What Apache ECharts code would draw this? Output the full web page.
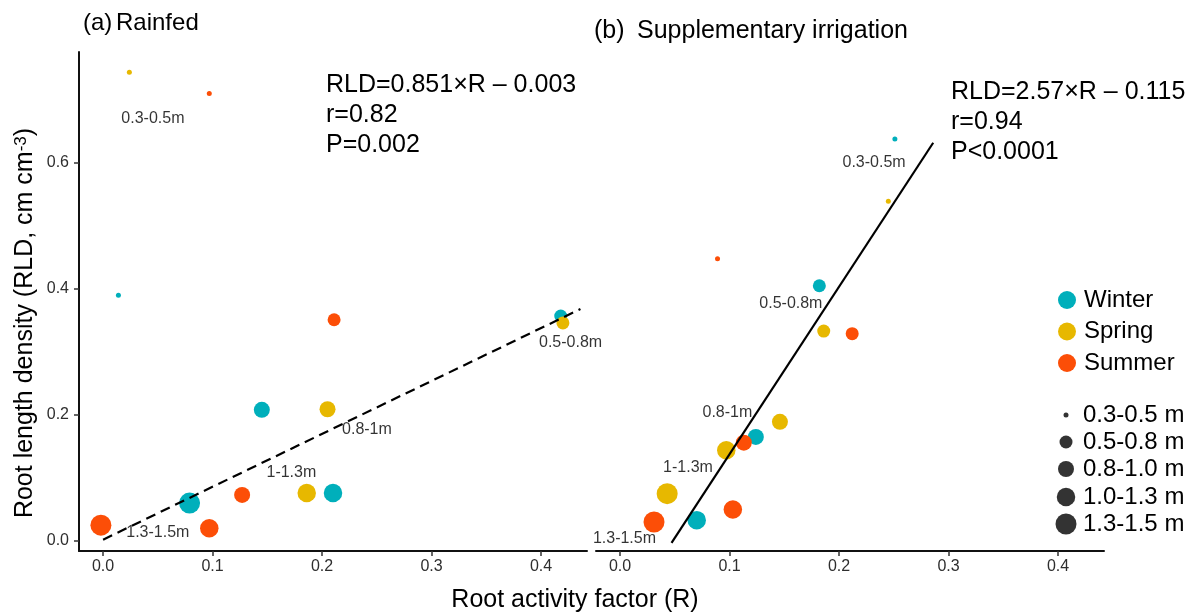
<!DOCTYPE html>
<html>
<head>
<meta charset="utf-8">
<title>RLD vs R</title>
<script src="https://cdn.jsdelivr.net/npm/echarts@6/dist/echarts.min.js"></script>
<style>
  html, body { margin: 0; padding: 0; background: #fff; }
  #chart { width: 1194px; height: 613px; }
</style>
</head>
<body>
<div id="chart"></div>
<script>
// ---- data: [R, RLD, depth index] ----
var depths = ['0.3-0.5 m', '0.5-0.8 m', '0.8-1.0 m', '1.0-1.3 m', '1.3-1.5 m'];
var depthTags = ['0.3-0.5m', '0.5-0.8m', '0.8-1m', '1-1.3m', '1.3-1.5m'];
var seasons = ['Winter', 'Spring', 'Summer'];
var xTicks = [0, 0.1, 0.2, 0.3, 0.4];
var yTicks = [0, 0.2, 0.4, 0.6];

// (a) rainfed
var rainWinter = [[0.014, 0.390, 0], [0.418, 0.357, 1], [0.145, 0.208, 2], [0.210, 0.076, 3], [0.079, 0.060, 4]];
var rainSpring = [[0.024, 0.744, 0], [0.420, 0.346, 1], [0.205, 0.209, 2], [0.186, 0.076, 3]];
var rainSummer = [[0.097, 0.710, 0], [0.211, 0.351, 1], [0.127, 0.073, 2], [0.097, 0.020, 3], [-0.002, 0.025, 4]];
var rainFit = [[0, 0.002], [0.436, 0.368]];
var rainTagPos = [[0.0455, 0.671], [0.427, 0.314], [0.241, 0.176], [0.172, 0.108], [0.050, 0.013]];

// (b) supplementary irrigation
var irrWinter = [[0.251, 0.638, 0], [0.182, 0.405, 1], [0.124, 0.165, 2], [0.070, 0.033, 3]];
var irrSpring = [[0.245, 0.539, 0], [0.186, 0.333, 1], [0.146, 0.189, 2], [0.097, 0.144, 3], [0.043, 0.075, 4]];
var irrSummer = [[0.089, 0.448, 0], [0.212, 0.329, 1], [0.113, 0.156, 2], [0.103, 0.050, 3], [0.031, 0.030, 4]];
var irrFit = [[0.047, -0.003], [0.286, 0.632]];
var irrTagPos = [[0.232, 0.600], [0.156, 0.376], [0.098, 0.203], [0.062, 0.116], [0.004, 0.003]];

// ---- styling ----
var FONT = "'Liberation Sans', Arial, sans-serif";
var colors = { Winter: '#00AFBB', Spring: '#E7B800', Summer: '#FC4E07' };
var dotSizes = [5, 13, 16, 18.5, 21];

var chart = echarts.init(document.getElementById('chart'), null, { renderer: 'canvas' });

function xAxisOf(i) {
  return {
    type: 'value', gridIndex: i, min: -0.022, max: 0.442,
    axisLine: { show: true, onZero: false, lineStyle: { color: '#111', width: 2 } },
    axisTick: { show: true, length: 5, customValues: xTicks, lineStyle: { color: '#333', width: 1.5 } },
    axisLabel: { customValues: xTicks, margin: 8, fontSize: 16, fontFamily: FONT, color: '#2e2e2e',
      formatter: function (v) { return v.toFixed(1); } },
    splitLine: { show: false }
  };
}

function yAxisOf(i, show) {
  return {
    type: 'value', gridIndex: i, min: -0.016, max: 0.776, show: show,
    axisLine: { show: true, onZero: false, lineStyle: { color: '#111', width: 2 } },
    axisTick: { show: true, length: 5, customValues: yTicks, lineStyle: { color: '#333', width: 1.5 } },
    axisLabel: { customValues: yTicks, margin: 10, fontSize: 16, fontFamily: FONT, color: '#2e2e2e',
      formatter: function (v) { return v.toFixed(1); } },
    splitLine: { show: false }
  };
}

function dots(name, data, idx) {
  return {
    type: 'scatter', name: name, xAxisIndex: idx, yAxisIndex: idx, data: data,
    symbol: 'circle',
    symbolSize: function (d) { return dotSizes[d[2]]; },
    itemStyle: { color: colors[name], opacity: 1 },
    emphasis: { disabled: true }, z: 2
  };
}

function fit(data, idx, dashed) {
  return {
    type: 'line', xAxisIndex: idx, yAxisIndex: idx, data: data,
    symbol: 'none', silent: true, z: 3,
    lineStyle: { color: '#000', width: 2.2, type: dashed ? [10, 6] : 'solid' }
  };
}

function tags(pos, idx) {
  return {
    type: 'scatter', xAxisIndex: idx, yAxisIndex: idx, silent: true, z: 4,
    symbolSize: 0,
    data: pos.map(function (p, k) { return { value: p, name: depthTags[k] }; }),
    label: { show: true, position: 'inside', formatter: '{b}',
      fontSize: 16, fontFamily: FONT, color: '#000', textBorderWidth: 0 }
  };
}

var series = [
  dots('Winter', rainWinter, 0), dots('Spring', rainSpring, 0), dots('Summer', rainSummer, 0),
  dots('Winter', irrWinter, 1), dots('Spring', irrSpring, 1), dots('Summer', irrSummer, 1),
  fit(rainFit, 0, true), fit(irrFit, 1, false),
  tags(rainTagPos, 0), tags(irrTagPos, 1)
];

// empty black series so the size legend has entries
depths.forEach(function (d) {
  series.push({ type: 'scatter', name: d, xAxisIndex: 1, yAxisIndex: 1, data: [],
    itemStyle: { color: '#000' } });
});

// legends: seasons, then one per depth size
var legends = [{
  data: seasons, orient: 'vertical', left: 1058, top: 288, padding: 0,
  itemWidth: 18, itemHeight: 18, itemGap: 7.5, icon: 'circle', selectedMode: false,
  textStyle: { fontSize: 24, lineHeight: 24, fontFamily: FONT, color: '#000', padding: [0, 0, 0, 3] }
}];
var sizeRowY = [415, 442, 469, 497, 524];
depths.forEach(function (d, k) {
  var s = dotSizes[k];
  legends.push({
    data: [d], left: 1066 - s / 2, top: sizeRowY[k] - 12, padding: 0,
    itemWidth: s, itemHeight: s, icon: 'circle', selectedMode: false,
    itemStyle: { color: '#000' },
    textStyle: { fontSize: 24, lineHeight: 24, fontFamily: FONT, color: '#000',
      padding: [0, 0, 0, Math.max(0, 1083 - (1066 + s / 2 + 5))] }
  });
});

function txt(extra) {
  return Object.assign({ fontFamily: FONT, fill: '#000' }, extra);
}

var option = {
  backgroundColor: '#fff',
  animation: false,
  grid: [
    { left: 79, top: 52, width: 508, height: 499 },
    { left: 596, top: 52, width: 508, height: 499 }
  ],
  xAxis: [xAxisOf(0), xAxisOf(1)],
  yAxis: [yAxisOf(0, true), yAxisOf(1, false)],
  legend: legends,
  series: series,
  graphic: [
    // panel titles
    { type: 'text', left: 83, top: 11, style: txt({ text: '(a)', fontSize: 24 }) },
    { type: 'text', left: 116, top: 11, style: txt({ text: 'Rainfed', fontSize: 24 }) },
    { type: 'text', left: 594, top: 19, style: txt({ text: '(b)', fontSize: 25 }) },
    { type: 'text', left: 637, top: 19, style: txt({ text: 'Supplementary irrigation', fontSize: 25 }) },
    // regression equations
    { type: 'text', left: 326, top: 70, style: txt({
      text: 'RLD=0.851\u00d7R \u2013 0.003\nr=0.82\nP=0.002', fontSize: 25, lineHeight: 30 }) },
    { type: 'text', left: 951, top: 77, style: txt({
      text: 'RLD=2.57\u00d7R \u2013 0.115\nr=0.94\nP<0.0001', fontSize: 25, lineHeight: 30 }) },
    // axis titles
    { type: 'text', x: 575, y: 600, style: txt({
      text: 'Root activity factor (R)', fontSize: 25, align: 'center', verticalAlign: 'middle' }) },
    { type: 'text', x: 25, y: 323, rotation: Math.PI / 2, style: txt({
      text: 'Root length density (RLD, cm cm{sup|-3})', fontSize: 25,
      align: 'center', verticalAlign: 'middle',
      rich: { sup: { fontSize: 17, fontFamily: FONT, fill: '#000', verticalAlign: 'top', lineHeight: 16 } } }) }
  ]
};

chart.setOption(option);
</script>
</body>
</html>
